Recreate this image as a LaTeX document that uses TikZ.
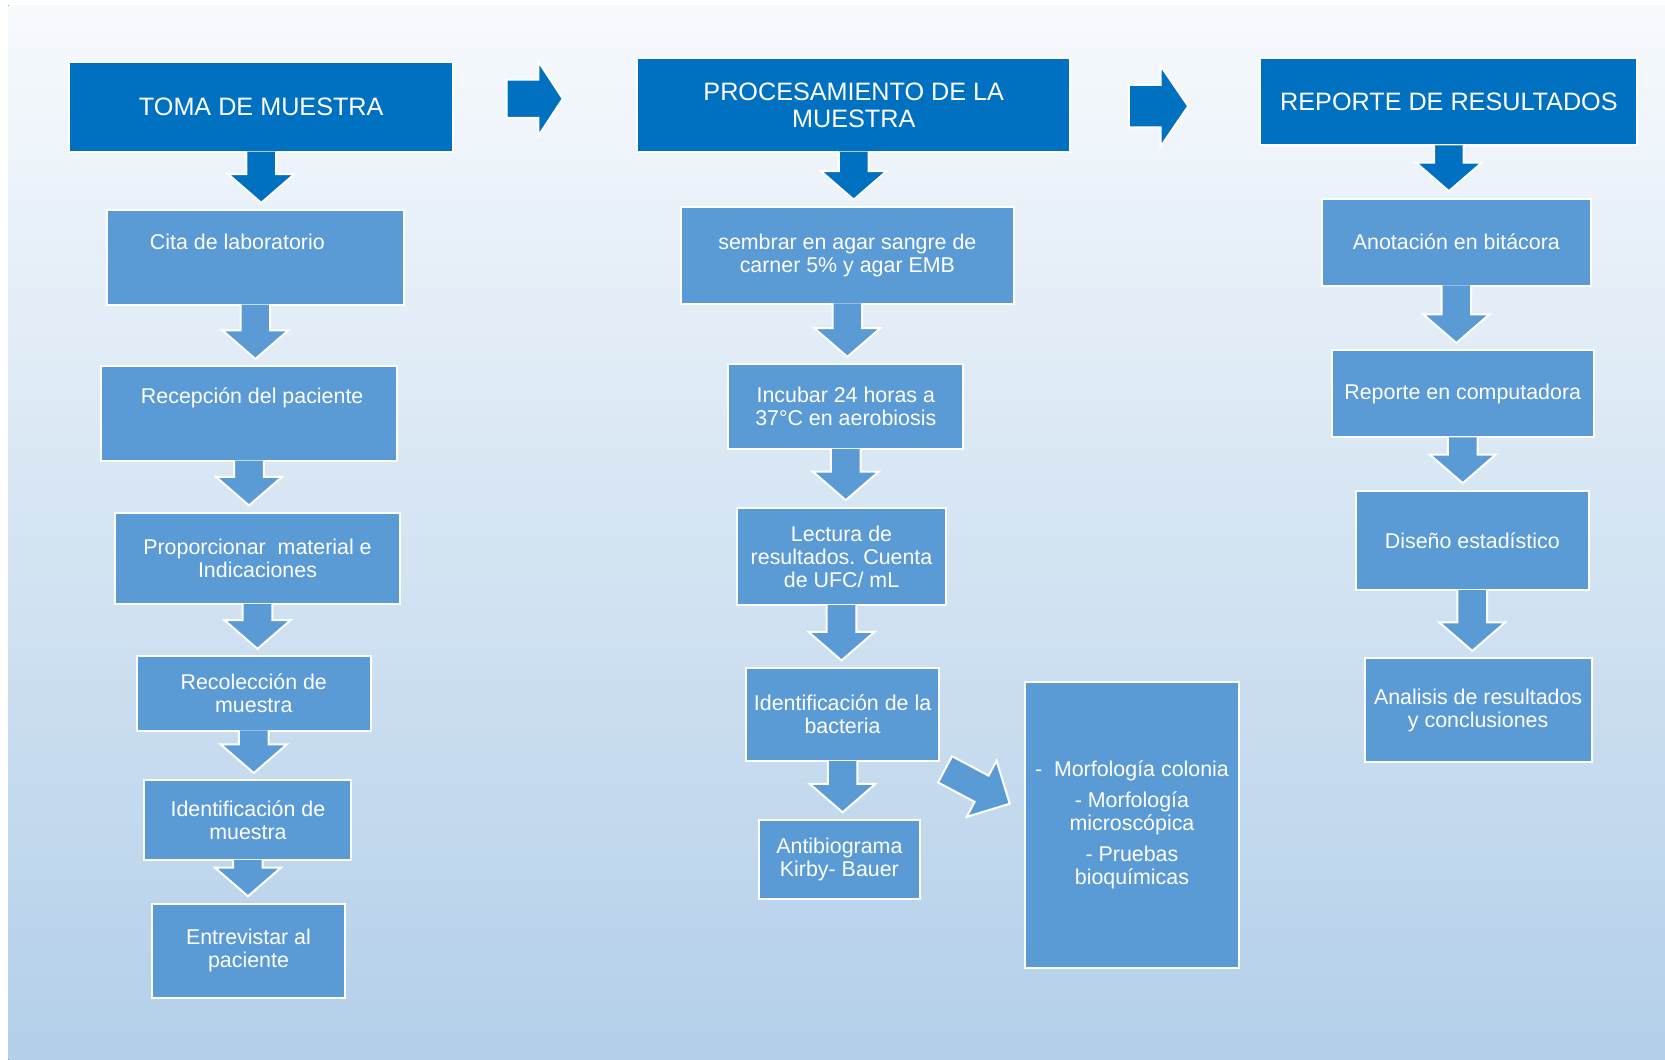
\documentclass[tikz,border=0pt]{standalone}
\usepackage{fontspec}
\setmainfont{Liberation Sans}
\usetikzlibrary{calc}
\definecolor{color_stage}{HTML}{0070C0}
\definecolor{color_step}{HTML}{5B9BD5}
\definecolor{color_back_top}{HTML}{F7FAFD}
\definecolor{color_back_bottom}{HTML}{B3CFE9}
\tikzset{
  stage_head/.style={rectangle, fill=color_stage, draw=white, line width=1pt, text=white, align=center, font=\fontsize{12.6}{13.3}\selectfont},
  step_box/.style={rectangle, fill=color_step, draw=white, line width=1pt, text=white, align=center, font=\fontsize{10.7}{11.5}\selectfont},
  step_text/.style={text=white, align=center, inner sep=0pt, font=\fontsize{10.7}{11.5}\selectfont},
  box_dim/.style 2 args={minimum width=#1*0.531pt, minimum height=#2*0.531pt},
  flow_edge/.style={draw=white, line width=1pt, line join=miter},
  back_fade/.style={top color=color_back_top, bottom color=color_back_bottom},
}
% block arrow from the foot of one box down to the next one
\newcommand{\flowdown}[3]{%
  \path[flow_edge, fill=#1] let \p1=(#2.south), \p2=(#3.north) in
    (\x1-7.4pt,\y1+0.6pt) -- (\x1-7.4pt,\y2+17.5pt) -- (\x1-16.5pt,\y2+17.5pt)
    -- (\x1,\y2+3.2pt) -- (\x1+16.5pt,\y2+17.5pt) -- (\x1+7.4pt,\y2+17.5pt)
    -- (\x1+7.4pt,\y1+0.6pt);
}
\begin{document}
\begin{tikzpicture}[x=0.531pt, y=-0.531pt]
    \useasboundingbox (0,0) rectangle (1568,998);
    \fill[white] (0,0) rectangle (1568,998);
    \fill[back_fade] (8,5) rectangle (1568,998);

    % first column
    \node[stage_head, box_dim={362}{85}] (toma) at (246,100.5) {TOMA DE MUESTRA};
    \node[step_box, box_dim={279}{89}] (cita) at (240.5,242.5) {};
    \node[step_text] at ($(cita.center)+(-17,-14.5)$) {Cita de laboratorio};
    \node[step_box, box_dim={279}{89}] (recepcion) at (234.5,389.5) {};
    \node[step_text] at ($(recepcion.center)+(3,-14.5)$) {Recepción del paciente};
    \node[step_box, box_dim={269}{86}] (material) at (242.5,526) {Proporcionar\ \ material e\\Indicaciones};
    \node[step_box, box_dim={220}{70}] (recoleccion) at (239,653) {Recolección de\\muestra};
    \node[step_box, box_dim={195}{75}] (ident_muestra) at (233.5,772.5) {Identificación de\\muestra};
    \node[step_box, box_dim={182}{89}] (entrevista) at (234,895.5) {Entrevistar al\\paciente};

    % second column
    \node[stage_head, box_dim={408}{88}] (proceso) at (804,99) {PROCESAMIENTO DE LA\\MUESTRA};
    \node[step_box, box_dim={314}{91}] (sembrar) at (798,240.5) {sembrar en agar sangre de\\carner 5\% y agar EMB};
    \node[step_box, box_dim={221}{80}] (incubar) at (796.5,383) {Incubar 24 horas a\\37°C en aerobiosis};
    \node[step_box, box_dim={197}{92}] (lectura) at (792.5,524) {Lectura de\\resultados. Cuenta\\de UFC/ mL};
    \node[step_box, box_dim={181}{88}] (ident_bacteria) at (793.5,673) {Identificación de la\\bacteria};
    \node[step_box, box_dim={151}{75}] (antibiograma) at (790.5,809.5) {Antibiograma\\Kirby- Bauer};
    \node[step_box, box_dim={202}{270}] (morfologia) at (1066,777)
      {-\ \ Morfología colonia\\[4pt]- Morfología\\microscópica\\[4pt]- Pruebas\\bioquímicas};

    % third column
    \node[stage_head, box_dim={355}{82}] (reporte) at (1364.5,96) {REPORTE DE RESULTADOS};
    \node[step_box, box_dim={253}{82}] (anotacion) at (1371.5,228) {Anotación en bitácora};
    \node[step_box, box_dim={247}{82}] (computadora) at (1377.5,371) {Reporte en computadora};
    \node[step_box, box_dim={219}{94}] (diseno) at (1386.5,509) {Diseño estadístico};
    \node[step_box, box_dim={214}{98}] (analisis) at (1392,669) {Analisis de resultados\\y conclusiones};

    % arrows
    \flowdown{color_stage}{toma}{cita}
    \flowdown{color_step}{cita}{recepcion}
    \flowdown{color_step}{recepcion}{material}
    \flowdown{color_step}{material}{recoleccion}
    \flowdown{color_step}{recoleccion}{ident_muestra}
    \flowdown{color_step}{ident_muestra}{entrevista}
    \flowdown{color_stage}{proceso}{sembrar}
    \flowdown{color_step}{sembrar}{incubar}
    \flowdown{color_step}{incubar}{lectura}
    \flowdown{color_step}{lectura}{ident_bacteria}
    \flowdown{color_step}{ident_bacteria}{antibiograma}
    \flowdown{color_stage}{reporte}{anotacion}
    \flowdown{color_step}{anotacion}{computadora}
    \flowdown{color_step}{computadora}{diseno}
    \flowdown{color_step}{diseno}{analisis}

    \coordinate (gap_one) at (477,93);
    \coordinate (gap_two) at (1063,100);
    \coordinate (gap_side) at (890,724.5);
    \path[flow_edge, fill=color_stage, shift={(gap_one)}]
      (0,-18) -- (30,-18) -- (30,-35) -- (53,0) -- (30,35) -- (30,18) -- (0,18) -- cycle;
    \path[flow_edge, fill=color_stage, shift={(gap_two)}]
      (0,-20) -- (30,-20) -- (30,-38) -- (56,0) -- (30,38) -- (30,20) -- (0,20) -- cycle;
    \path[flow_edge, fill=color_step, shift={(gap_side)}, rotate=-28]
      (0,-14) -- (39,-14) -- (39,-30) -- (69,0) -- (39,30) -- (39,14) -- (0,14) -- cycle;
\end{tikzpicture}
\end{document}
